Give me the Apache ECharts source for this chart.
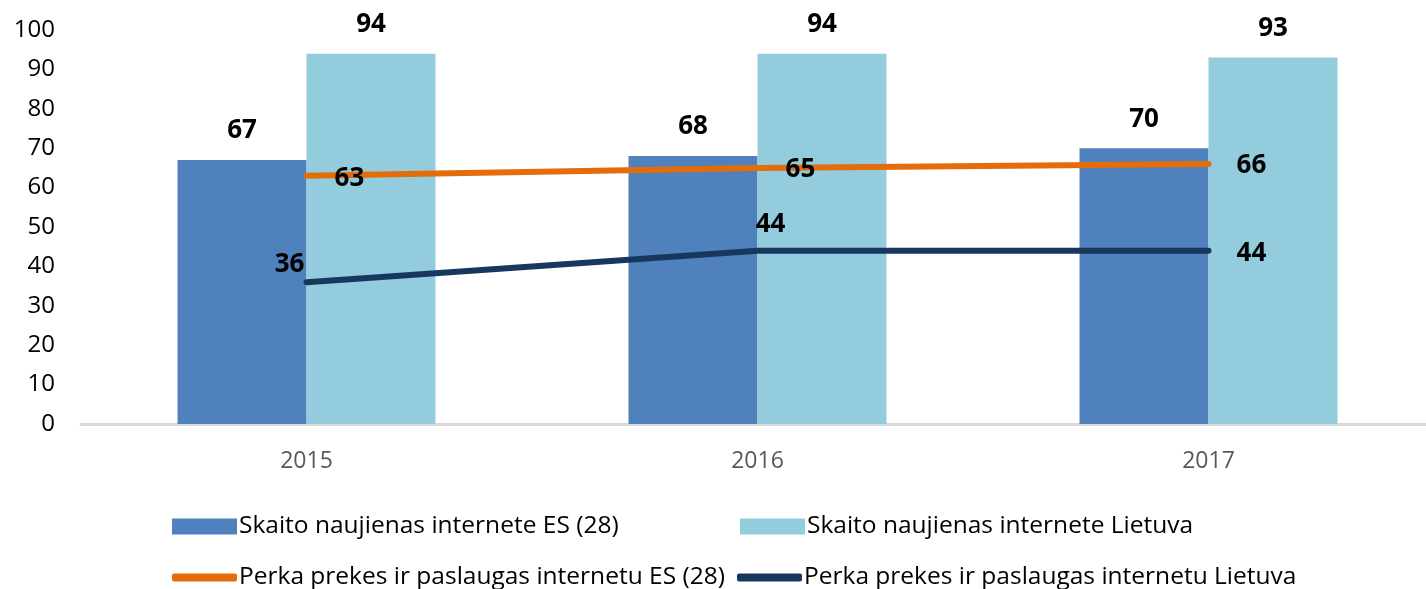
<!DOCTYPE html>
<html>
<head>
<meta charset="utf-8">
<script src="https://cdn.jsdelivr.net/npm/echarts@6/dist/echarts.min.js"></script>
<style>
html, body { margin: 0; padding: 0; background: #fff; }
#myChart { width: 1426px; height: 589px; }
</style>
</head>
<body>
<div id="myChart"></div>
<script>
    // duomenys
    let years = ['2015', '2016', '2017'];
    let skaitoES = [67, 68, 70];
    let skaitoLT = [94, 94, 93];
    let perkaES = [63, 65, 66];
    let perkaLT = [36, 44, 44];
    let yTicks = [0, 10, 20, 30, 40, 50, 60, 70, 80, 90, 100];

    let names = [
        'Skaito naujienas internete ES (28)',
        'Skaito naujienas internete Lietuva',
        'Perka prekes ir paslaugas internetu ES (28)',
        'Perka prekes ir paslaugas internetu Lietuva'
    ];
    let colors = ['#4F81BD', '#93CDDD', '#E46C0A', '#17375E'];

    // etikečių vietos linijoms
    let perkaESLabel = [
        {position: 'right', distance: 28, offset: [0, 3]},
        {position: 'right', distance: 28, offset: [0, 2]},
        {position: 'right', distance: 28, offset: [0, 2]}
    ];
    let perkaLTLabel = [
        {position: 'top', distance: 5, offset: [-17, 0]},
        {position: 'top', distance: 5, offset: [13, -8]},
        {position: 'right', distance: 28, offset: [0, 3]}
    ];

    let font = '"Open Sans", sans-serif';
    let myChart = echarts.init(document.getElementById('myChart'));

    function legendFor(i, left, top, lineIcon) {
        return {
            data: [{name: names[i], icon: lineIcon ? 'roundRect' : 'rect'}],
            left: left,
            top: top,
            itemWidth: 65,
            itemHeight: lineIcon ? 8 : 16,
            itemGap: 0,
            padding: 0,
            textStyle: {fontFamily: font, fontSize: 24.5, color: '#000', padding: [0, 0, 0, -3]}
        };
    }

    myChart.setOption({
        animation: false,
        grid: {left: 81, right: -8, top: 30, bottom: 165, containLabel: false, outerBoundsMode: 'none'},
        legend: [
            legendFor(0, 172, 514, false),
            legendFor(1, 740, 514, false),
            legendFor(2, 172, 565, true),
            legendFor(3, 737, 565, true)
        ],
        xAxis: {
            type: 'category',
            data: years,
            axisLine: {lineStyle: {color: '#d9d9d9', width: 3}},
            axisTick: {show: false},
            axisLabel: {fontFamily: font, fontSize: 23, color: '#595959', margin: 26}
        },
        yAxis: {
            type: 'value',
            min: yTicks[0],
            max: yTicks[yTicks.length - 1],
            interval: 10,
            axisLine: {show: false},
            axisTick: {show: false},
            splitLine: {show: false},
            axisLabel: {fontFamily: font, fontSize: 24, color: '#000', margin: 26}
        },
        series: [
            {
                name: names[0],
                type: 'bar',
                data: skaitoES,
                barWidth: 129,
                barGap: '0%',
                itemStyle: {color: colors[0]},
                label: {show: true, position: 'top', distance: 16, fontFamily: font, fontSize: 26, fontWeight: 'bold', color: '#000'}
            },
            {
                name: names[1],
                type: 'bar',
                data: skaitoLT,
                barWidth: 129,
                barGap: '0%',
                itemStyle: {color: colors[1]},
                label: {show: true, position: 'top', distance: 16, fontFamily: font, fontSize: 26, fontWeight: 'bold', color: '#000'}
            },
            {
                name: names[2],
                type: 'line',
                data: perkaES.map((v, i) => ({value: v, label: perkaESLabel[i]})),
                showSymbol: true,
                symbol: 'circle',
                symbolSize: 0.1,
                itemStyle: {color: colors[2]},
                lineStyle: {color: colors[2], width: 6, cap: 'round'},
                label: {show: true, fontFamily: font, fontSize: 26, fontWeight: 'bold', color: '#000'},
                z: 5
            },
            {
                name: names[3],
                type: 'line',
                data: perkaLT.map((v, i) => ({value: v, label: perkaLTLabel[i]})),
                showSymbol: true,
                symbol: 'circle',
                symbolSize: 0.1,
                itemStyle: {color: colors[3]},
                lineStyle: {color: colors[3], width: 6, cap: 'round'},
                label: {show: true, fontFamily: font, fontSize: 26, fontWeight: 'bold', color: '#000'},
                z: 5
            }
        ]
    });
</script>
</body>
</html>
